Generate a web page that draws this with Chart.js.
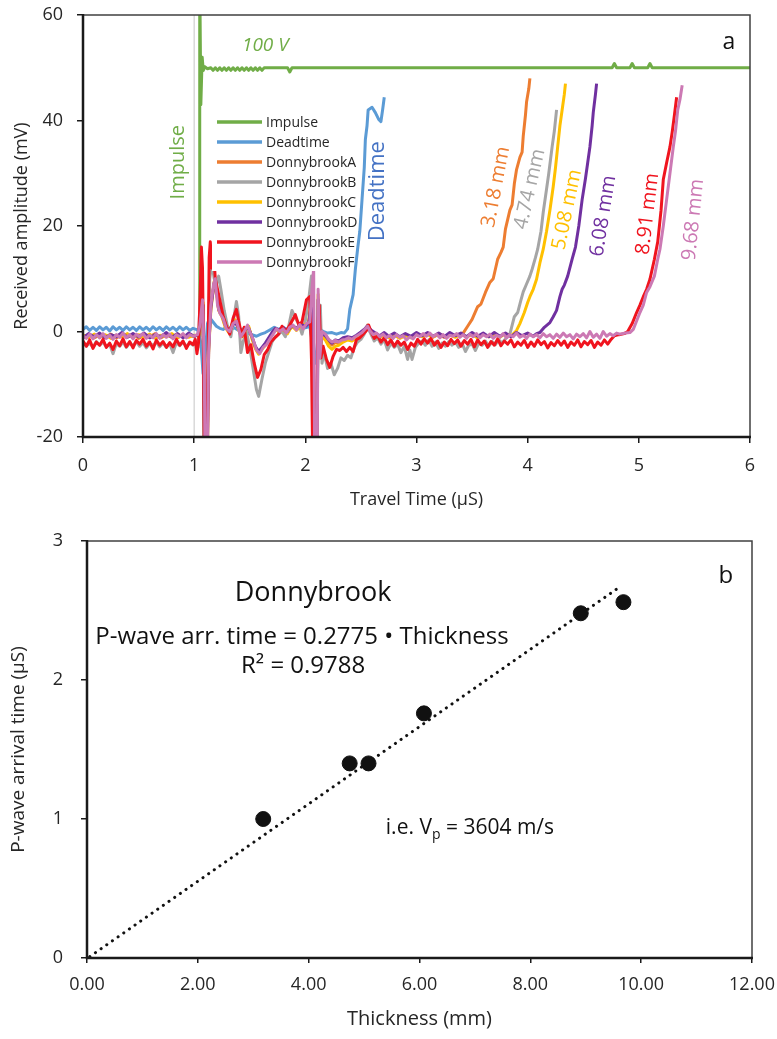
<!DOCTYPE html>
<html>
<head>
<meta charset="utf-8">
<script src="https://cdn.jsdelivr.net/npm/chart.js@4.4.0/dist/chart.umd.min.js"></script>
<style>
  body { margin: 0; background: #fff; }
  #waveBox { position: absolute; left: 0; top: 0; }
  #arrivalBox { position: absolute; left: 0; top: 515px; }
</style>
</head>
<body>
<div id="waveBox"><canvas id="waveChart" width="777" height="515"></canvas></div>
<div id="arrivalBox"><canvas id="arrivalChart" width="777" height="524"></canvas></div>
<script>
// ---- panel a: received waveforms, [travel time (µS), amplitude (mV)] ----
const timeTicks = [0, 1, 2, 3, 4, 5, 6];
const ampTicks = [-20, 0, 20, 40, 60];

const triggerMark = [[1.0, -20], [1.0, 60]];

const impulse = [[1.045,-1],[1.05,68],[1.06,43],[1.072,52],[1.082,49.5],[1.095,50.2],[1.12,49.8],[1.15,50],[1.17,49.5],[1.19,50],[1.21,49.5],[1.23,50],[1.25,49.5],[1.27,50],[1.29,49.5],[1.31,50],[1.33,49.5],[1.35,50],[1.37,49.5],[1.39,50],[1.41,49.5],[1.43,50],[1.45,49.5],[1.47,50],[1.49,49.5],[1.51,50],[1.53,49.5],[1.55,50],[1.57,49.5],[1.59,50],[1.61,49.5],[1.63,50],[1.84,50],[1.86,49.2],[1.88,50],[4.76,50],[4.78,50.8],[4.80,50],[4.92,50],[4.94,50.8],[4.96,50],[5.08,50],[5.10,50.8],[5.12,50],[6.0,50]];

const deadtime = [[0,0.4],[0.03,0.9],[0.06,0.2],[0.09,0.8],[0.12,0.2],[0.15,0.9],[0.18,0.3],[0.21,0.8],[0.24,0.1],[0.27,0.9],[0.30,0.3],[0.33,0.8],[0.36,0.2],[0.39,0.9],[0.42,0.3],[0.45,0.8],[0.48,0.2],[0.51,0.9],[0.54,0.3],[0.57,0.8],[0.60,0.2],[0.63,0.9],[0.66,0.3],[0.69,0.8],[0.72,0.2],[0.75,0.9],[0.78,0.3],[0.81,0.8],[0.84,0.2],[0.87,0.9],[0.90,0.3],[0.93,0.8],[0.96,0.2],[0.99,0.6],[1.03,0.3],[1.06,-2],[1.08,-8],[1.10,-4],[1.12,1.5],[1.14,2.6],[1.17,1.8],[1.20,1.0],[1.23,0.6],[1.26,0.4],[1.29,0.8],[1.32,0.2],[1.36,0.7],[1.40,0.2],[1.44,0.5],[1.48,-0.3],[1.52,-0.6],[1.56,-0.9],[1.60,-0.5],[1.64,-0.2],[1.68,0.3],[1.72,0.8],[1.76,0.4],[1.80,0.8],[1.84,0.3],[1.88,0.9],[1.92,0.5],[1.96,1.0],[2.00,0.7],[2.04,1.0],[2.07,-3],[2.09,-6],[2.11,-2],[2.13,0.5],[2.16,0],[2.20,-0.3],[2.24,-0.2],[2.28,-0.5],[2.32,-0.2],[2.35,-0.3],[2.38,0.5],[2.40,4.2],[2.43,7],[2.45,11.8],[2.47,15.6],[2.49,19],[2.51,25],[2.53,31],[2.54,36.4],[2.555,39],[2.565,42],[2.60,42.5],[2.63,41.5],[2.66,40.2],[2.68,39.8],[2.695,42],[2.71,44.4]];

const donnybrookA = [[0,-1.0],[0.05,-0.6],[0.10,-1.2],[0.15,-0.7],[0.20,-1.1],[0.25,-0.5],[0.30,-1.2],[0.35,-0.6],[0.40,-1.0],[0.45,-0.5],[0.50,-1.3],[0.55,-0.7],[0.60,-1.0],[0.65,-0.4],[0.70,-1.2],[0.75,-0.6],[0.80,-1.1],[0.85,-0.5],[0.90,-1.0],[0.95,-0.6],[1.00,-1.0],[1.04,-0.5],[1.06,3],[1.08,5],[1.095,-30],[1.115,-30],[1.13,-3],[1.15,5],[1.18,9],[1.20,8],[1.22,4.5],[1.25,3],[1.28,1],[1.31,0],[1.34,1.2],[1.37,2],[1.40,0.5],[1.43,-0.8],[1.46,0.3],[1.49,0.8],[1.52,-1.2],[1.55,-3],[1.58,-4],[1.61,-3.2],[1.64,-2.4],[1.67,-1.6],[1.70,-0.6],[1.73,0.3],[1.76,0.1],[1.80,0.6],[1.84,-0.2],[1.88,1.0],[1.92,0.4],[1.96,1.2],[2.00,1.2],[2.03,1.6],[2.06,6],[2.08,-30],[2.10,-30],[2.115,6],[2.13,-4],[2.15,-0.5],[2.18,-1],[2.21,-2],[2.24,-2.6],[2.27,-2],[2.30,-2.2],[2.34,-1.8],[2.38,-1.4],[2.42,-1.6],[2.46,-1.1],[2.50,-0.4],[2.54,0.3],[2.56,1.2],[2.59,0],[2.63,-0.5],[2.67,-1.1],[2.71,-0.6],[2.75,-1.0],[2.80,-0.8],[2.85,-1.2],[2.90,-0.6],[2.95,-1.1],[3.00,-0.5],[3.05,-0.9],[3.10,-0.4],[3.15,-1.0],[3.20,-0.6],[3.25,-1.1],[3.30,-0.5],[3.35,-0.9],[3.39,-0.5],[3.42,-0.3],[3.46,1.0],[3.50,2.3],[3.55,4.7],[3.58,5.2],[3.62,7.4],[3.66,9.3],[3.69,10],[3.73,13.7],[3.76,15],[3.78,16],[3.80,19.4],[3.84,23],[3.86,24],[3.88,28],[3.90,30.7],[3.93,33],[3.95,34],[3.96,37],[3.98,41],[3.99,43.5],[4.01,46],[4.02,48]];

const donnybrookB = [[0,-2.0],[0.03,-2.8],[0.06,-2.2],[0.09,-3.0],[0.12,-1.9],[0.15,-2.6],[0.18,-2.0],[0.21,-2.9],[0.24,-2.4],[0.27,-4.2],[0.30,-2.3],[0.33,-2.8],[0.36,-2.0],[0.39,-3.0],[0.42,-2.2],[0.45,-2.7],[0.48,-1.9],[0.51,-2.8],[0.54,-2.1],[0.57,-3.1],[0.60,-2.3],[0.63,-2.6],[0.66,-2.0],[0.69,-2.9],[0.72,-2.2],[0.75,-3.0],[0.78,-2.3],[0.81,-4.0],[0.84,-2.1],[0.87,-2.7],[0.90,-2.0],[0.93,-2.8],[0.96,-2.2],[0.99,-2.6],[1.02,-2.0],[1.035,-3],[1.05,4],[1.065,12],[1.08,2],[1.09,-30],[1.11,-30],[1.125,-5],[1.14,10],[1.16,13],[1.18,10],[1.20,9],[1.22,10.5],[1.24,8],[1.27,4],[1.30,1],[1.33,-1],[1.36,3],[1.38,5.7],[1.40,3],[1.42,-4],[1.44,-2],[1.47,0],[1.50,-3],[1.53,-7],[1.56,-11],[1.58,-12.3],[1.61,-9],[1.64,-6],[1.67,-4],[1.70,-2],[1.73,-1],[1.76,-0.5],[1.79,0],[1.82,-1],[1.85,1],[1.88,4],[1.91,2.5],[1.94,1.5],[1.97,-0.5],[2.00,2],[2.03,6],[2.055,10.5],[2.07,-5],[2.08,-30],[2.10,-30],[2.11,-10],[2.12,3],[2.135,5],[2.15,-6],[2.17,-4],[2.20,-7],[2.23,-6],[2.26,-8.2],[2.29,-7],[2.32,-5],[2.35,-5.5],[2.38,-4.5],[2.41,-5],[2.44,-3],[2.47,-2],[2.50,-1.5],[2.53,-0.5],[2.56,0.8],[2.59,-0.5],[2.62,-1.8],[2.65,-1.2],[2.68,-2.4],[2.71,-1.6],[2.74,-3.5],[2.77,-2.2],[2.80,-3.0],[2.83,-2.4],[2.86,-4.0],[2.89,-2.8],[2.92,-5.3],[2.94,-3.5],[2.96,-5.3],[2.99,-3.0],[3.02,-2.2],[3.05,-1.8],[3.08,-2.6],[3.11,-1.6],[3.14,-2.8],[3.17,-2.0],[3.20,-3.2],[3.23,-2.2],[3.26,-2.8],[3.29,-1.9],[3.32,-2.6],[3.35,-2.0],[3.38,-3.0],[3.41,-2.2],[3.44,-3.8],[3.47,-2.6],[3.50,-2.4],[3.53,-3.6],[3.56,-2.2],[3.59,-2.6],[3.62,-1.8],[3.65,-2.8],[3.68,-1.9],[3.71,-2.5],[3.74,-1.6],[3.77,-2.2],[3.80,-1.4],[3.84,-0.5],[3.88,2.8],[3.91,3.6],[3.94,6],[3.96,7.5],[3.99,9],[4.02,10.5],[4.04,11.8],[4.07,14],[4.09,15.6],[4.12,19],[4.14,22.6],[4.17,27],[4.19,30],[4.22,35],[4.24,38],[4.26,42]];

const donnybrookC = [[0,-0.7],[0.05,-1.2],[0.10,-0.5],[0.15,-1.1],[0.20,-0.6],[0.25,-1.3],[0.30,-0.7],[0.35,-1.0],[0.40,-0.4],[0.45,-1.2],[0.50,-0.6],[0.55,-1.1],[0.60,-0.5],[0.65,-1.3],[0.70,-0.7],[0.75,-1.0],[0.80,-0.4],[0.85,-1.2],[0.90,-0.6],[0.95,-1.1],[1.00,-0.7],[1.04,-0.8],[1.06,2],[1.08,5.5],[1.095,-30],[1.115,-30],[1.13,-4],[1.15,4],[1.18,9.5],[1.20,7.5],[1.22,4],[1.25,2.8],[1.28,0.8],[1.31,-0.2],[1.34,1.4],[1.37,2.2],[1.40,0.3],[1.43,-1],[1.46,0.2],[1.49,1.0],[1.52,-1.4],[1.55,-3.2],[1.58,-4.3],[1.61,-3.4],[1.64,-2.6],[1.67,-1.4],[1.70,-0.4],[1.73,0.5],[1.76,0],[1.80,0.4],[1.84,-0.4],[1.88,1.1],[1.92,0.2],[1.96,1.1],[2.00,1.4],[2.03,1.7],[2.06,7],[2.08,-30],[2.10,-30],[2.115,7],[2.13,-5],[2.15,-1],[2.18,-1.6],[2.21,-2.8],[2.24,-3.4],[2.27,-2.8],[2.30,-2.6],[2.34,-2.0],[2.38,-1.6],[2.42,-1.8],[2.46,-1.2],[2.50,-0.5],[2.54,0.4],[2.56,1.0],[2.59,0.1],[2.63,-0.7],[2.67,-1.2],[2.71,-0.5],[2.75,-1.2],[2.80,-0.6],[2.85,-1.3],[2.90,-0.8],[2.95,-1.2],[3.00,-0.4],[3.05,-1.0],[3.10,-0.6],[3.15,-1.1],[3.20,-0.4],[3.25,-1.0],[3.30,-0.7],[3.35,-1.1],[3.40,-0.5],[3.45,-1.0],[3.50,-0.6],[3.55,-1.2],[3.60,-0.5],[3.65,-1.0],[3.70,-0.6],[3.75,-1.1],[3.80,-0.4],[3.85,-0.9],[3.90,0.2],[3.93,1.5],[3.97,3.6],[4.00,5.5],[4.02,6.6],[4.05,8],[4.08,9.9],[4.11,13],[4.14,15.6],[4.17,19],[4.20,23],[4.23,27.5],[4.25,31],[4.27,35],[4.29,39],[4.31,42],[4.33,45],[4.34,47]];

const donnybrookD = [[0,-1.2],[0.05,-0.4],[0.10,-1.0],[0.15,-0.3],[0.20,-1.2],[0.25,-0.6],[0.30,-1.0],[0.35,-0.2],[0.40,-1.1],[0.45,-0.4],[0.50,-1.0],[0.55,-0.3],[0.60,-1.2],[0.65,-0.6],[0.70,-1.0],[0.75,-0.2],[0.80,-1.1],[0.85,-0.4],[0.90,-1.2],[0.95,-0.3],[1.00,-0.9],[1.04,-0.6],[1.06,2.5],[1.08,5],[1.095,-30],[1.115,-30],[1.13,-3.5],[1.15,4.5],[1.18,9.2],[1.20,8.5],[1.22,4.2],[1.25,3.2],[1.28,1.2],[1.31,0.2],[1.34,1.0],[1.37,1.8],[1.40,0.6],[1.43,-0.6],[1.46,0.4],[1.49,0.6],[1.52,-1.0],[1.55,-2.8],[1.58,-3.8],[1.61,-3.0],[1.64,-2.2],[1.67,-1.2],[1.70,-0.2],[1.73,0.6],[1.76,0.3],[1.80,0.8],[1.84,0],[1.88,1.2],[1.92,0.6],[1.96,1.4],[2.00,1.0],[2.03,1.5],[2.06,6.5],[2.08,-30],[2.10,-30],[2.115,6],[2.13,-4],[2.15,-0.3],[2.18,-0.8],[2.21,-1.6],[2.24,-2.2],[2.27,-1.6],[2.30,-1.8],[2.34,-1.2],[2.38,-1.0],[2.42,-1.2],[2.46,-0.7],[2.50,-0.1],[2.54,0.6],[2.56,1.1],[2.59,0.3],[2.63,-0.3],[2.67,-0.8],[2.71,-0.2],[2.75,-0.9],[2.80,-0.3],[2.85,-1.0],[2.90,-0.4],[2.95,-0.9],[3.00,-0.2],[3.05,-0.8],[3.10,-0.2],[3.15,-0.9],[3.20,-0.3],[3.25,-1.0],[3.30,-0.2],[3.35,-0.8],[3.40,-0.3],[3.45,-1.0],[3.50,-0.2],[3.55,-0.9],[3.60,-0.3],[3.65,-1.0],[3.70,-0.2],[3.75,-0.9],[3.80,-0.3],[3.85,-1.0],[3.90,-0.2],[3.95,-0.8],[4.00,-0.3],[4.05,-0.9],[4.08,-0.4],[4.11,-0.2],[4.15,0.8],[4.20,1.7],[4.23,2.8],[4.26,4],[4.29,6.6],[4.31,8],[4.33,8.8],[4.36,10.5],[4.40,13.7],[4.43,16],[4.46,20],[4.49,25],[4.52,29],[4.54,32],[4.56,35],[4.58,39],[4.59,41.5],[4.61,45],[4.62,47]];

const donnybrookE = [[0,-1.8],[0.03,-2.8],[0.06,-1.6],[0.09,-3.2],[0.12,-2.0],[0.15,-2.6],[0.18,-1.5],[0.21,-3.0],[0.24,-2.2],[0.27,-3.4],[0.30,-1.8],[0.33,-2.7],[0.36,-1.4],[0.39,-2.9],[0.42,-1.9],[0.45,-3.1],[0.48,-1.7],[0.51,-2.4],[0.54,-1.5],[0.57,-2.8],[0.60,-2.0],[0.63,-3.3],[0.66,-1.6],[0.69,-2.6],[0.72,-1.9],[0.75,-3.0],[0.78,-2.1],[0.81,-2.9],[0.84,-1.5],[0.87,-2.6],[0.90,-1.8],[0.93,-3.2],[0.96,-2.0],[0.99,-2.5],[1.01,-1.5],[1.025,-4.2],[1.04,-2],[1.055,8],[1.065,16],[1.075,12],[1.085,-5],[1.095,-30],[1.115,-30],[1.125,-5],[1.135,14],[1.145,17],[1.16,12],[1.175,15],[1.19,10],[1.21,8],[1.23,6],[1.26,3],[1.29,1],[1.32,-0.5],[1.35,2.5],[1.38,4.2],[1.40,2],[1.43,-0.9],[1.45,0.8],[1.48,-4],[1.51,-2.5],[1.54,-6],[1.57,-8.7],[1.60,-7.2],[1.63,-4.4],[1.66,-3.5],[1.69,-2],[1.73,-1.1],[1.76,-0.5],[1.79,1],[1.82,0],[1.85,0.8],[1.88,2],[1.91,3.2],[1.94,1.3],[1.97,1.8],[2.01,6],[2.04,6.6],[2.055,-5],[2.07,-30],[2.095,-30],[2.105,-10],[2.115,2],[2.125,5],[2.14,-5],[2.16,-2.8],[2.19,-5.3],[2.22,-6.8],[2.25,-4.7],[2.28,-3.4],[2.31,-3.6],[2.34,-3.0],[2.37,-3.8],[2.40,-3.0],[2.43,-3.8],[2.46,-1.5],[2.49,-1.2],[2.52,-0.5],[2.55,0.2],[2.57,1.2],[2.59,0],[2.62,-1.3],[2.65,-0.8],[2.68,-2.0],[2.71,-1.2],[2.74,-2.5],[2.77,-1.6],[2.80,-2.8],[2.83,-1.8],[2.86,-2.6],[2.89,-2.0],[2.92,-3.4],[2.95,-2.2],[2.98,-2.8],[3.01,-1.5],[3.04,-2.4],[3.07,-1.4],[3.10,-2.2],[3.13,-1.3],[3.16,-2.6],[3.19,-1.8],[3.22,-3.0],[3.25,-2.0],[3.28,-2.7],[3.31,-1.5],[3.34,-2.3],[3.37,-1.6],[3.40,-2.8],[3.43,-1.7],[3.46,-2.4],[3.49,-1.5],[3.52,-2.9],[3.55,-1.6],[3.58,-2.5],[3.61,-1.8],[3.64,-3.0],[3.67,-1.9],[3.70,-2.6],[3.73,-1.4],[3.76,-2.7],[3.79,-1.8],[3.82,-2.4],[3.85,-1.6],[3.88,-2.9],[3.91,-2.0],[3.94,-2.6],[3.97,-1.7],[4.00,-3.0],[4.03,-2.0],[4.06,-2.8],[4.09,-1.6],[4.12,-2.5],[4.15,-1.9],[4.18,-3.1],[4.21,-2.1],[4.24,-2.7],[4.27,-1.7],[4.30,-2.6],[4.33,-1.8],[4.36,-3.0],[4.39,-2.0],[4.42,-2.6],[4.45,-1.6],[4.48,-2.9],[4.51,-1.9],[4.54,-2.5],[4.57,-1.7],[4.60,-3.0],[4.63,-2.0],[4.66,-2.6],[4.69,-1.6],[4.72,-2.4],[4.75,-1.5],[4.78,-0.8],[4.82,-0.6],[4.87,-0.4],[4.90,0],[4.94,1.5],[4.98,3.6],[5.01,5],[5.04,6.6],[5.07,8],[5.10,9.9],[5.14,13.7],[5.17,17],[5.20,23],[5.22,28.8],[5.25,32],[5.28,35],[5.30,37.8],[5.32,41],[5.34,44.4]];

const donnybrookF = [[0,-0.8],[0.03,-1.3],[0.06,-0.5],[0.09,-1.4],[0.12,-0.6],[0.15,-1.2],[0.18,-0.4],[0.21,-1.3],[0.24,-0.7],[0.27,-1.5],[0.30,-0.6],[0.33,-1.1],[0.36,-0.3],[0.39,-1.2],[0.42,-0.6],[0.45,-1.4],[0.48,-0.5],[0.51,-1.0],[0.54,-0.4],[0.57,-1.3],[0.60,-0.7],[0.63,-1.2],[0.66,-0.4],[0.69,-1.3],[0.72,-0.6],[0.75,-1.1],[0.78,-0.5],[0.81,-1.4],[0.84,-0.6],[0.87,-1.0],[0.90,-0.4],[0.93,-1.2],[0.96,-0.6],[0.99,-0.9],[1.03,-0.6],[1.05,1.0],[1.075,6.0],[1.09,-5],[1.10,-30],[1.115,-30],[1.13,-4],[1.15,5],[1.175,9],[1.19,10],[1.21,5],[1.23,3.5],[1.26,2.5],[1.29,0.5],[1.32,0],[1.35,1.5],[1.38,2],[1.40,0.5],[1.42,-1],[1.45,0],[1.48,1.2],[1.50,0],[1.53,-1.5],[1.56,-3.5],[1.59,-4.2],[1.62,-3],[1.65,-2.5],[1.68,-1.5],[1.71,-0.5],[1.74,0.5],[1.77,0],[1.80,0.5],[1.83,-0.3],[1.86,0.8],[1.89,1.2],[1.92,0.3],[1.95,1.3],[1.98,0.5],[2.01,1.5],[2.04,1.8],[2.06,8],[2.075,12],[2.085,-30],[2.105,-30],[2.115,8],[2.13,-5],[2.15,0],[2.18,-0.5],[2.21,-1.5],[2.24,-2],[2.27,-1.7],[2.30,-2],[2.33,-1.6],[2.36,-1.5],[2.39,-1.2],[2.42,-1.5],[2.45,-1.0],[2.48,-0.6],[2.51,-0.2],[2.54,0.5],[2.56,1.0],[2.58,0.2],[2.61,-0.6],[2.64,-0.3],[2.67,-1.0],[2.70,-0.5],[2.73,-1.2],[2.76,-0.7],[2.79,-1.3],[2.82,-0.6],[2.85,-1.1],[2.88,-0.8],[2.91,-1.6],[2.94,-1.0],[2.97,-1.4],[3.00,-0.6],[3.03,-1.0],[3.06,-0.4],[3.09,-0.9],[3.12,-0.3],[3.15,-1.0],[3.18,-0.5],[3.21,-1.2],[3.24,-0.6],[3.27,-1.3],[3.30,-0.7],[3.33,-0.9],[3.36,-0.4],[3.39,-1.1],[3.42,-0.6],[3.45,-1.3],[3.48,-0.5],[3.51,-1.0],[3.54,-0.4],[3.57,-1.2],[3.60,-0.6],[3.63,-1.0],[3.66,-0.5],[3.69,-1.3],[3.72,-0.7],[3.75,-1.1],[3.78,-0.4],[3.81,-1.2],[3.84,-0.6],[3.87,-1.0],[3.90,-0.3],[3.93,-1.1],[3.96,-0.7],[3.99,-1.3],[4.02,-0.5],[4.05,-1.0],[4.08,-0.6],[4.11,-1.2],[4.14,-0.4],[4.17,-1.0],[4.20,-0.6],[4.23,-1.3],[4.26,-0.5],[4.29,-1.1],[4.32,-0.3],[4.35,-1.0],[4.38,-0.6],[4.41,-1.4],[4.44,-0.5],[4.47,-1.0],[4.50,-0.4],[4.53,-1.2],[4.56,0.0],[4.59,-1.1],[4.62,-0.5],[4.65,-1.3],[4.68,0.0],[4.71,-0.9],[4.74,-0.4],[4.77,-0.8],[4.80,-0.3],[4.83,-0.5],[4.88,-0.3],[4.92,-0.2],[4.95,0.4],[4.98,2.0],[5.01,3.6],[5.04,5.0],[5.07,7.4],[5.10,8.5],[5.14,10.5],[5.17,13.7],[5.19,15.6],[5.22,20],[5.25,25],[5.28,30],[5.31,35],[5.33,38],[5.35,42],[5.37,44],[5.39,46.7]];

// ---- panel b: arrival time against sample thickness ----
const thicknessMm = [3.18, 4.74, 5.08, 6.08, 8.91, 9.68];
const arrivalUs = [1.00, 1.40, 1.40, 1.76, 2.48, 2.56];
const trendThickness = [0.05, 9.58];
const trendArrival = [0.01, 2.66];
const thicknessTicks = [0, 2, 4, 6, 8, 10, 12];
const arrivalTicks = [0, 1, 2, 3];

const FONT = "'Open Sans', 'Noto Sans', sans-serif";
const INK = '#262626';

const waveSeries = [
    { label: 'Impulse', data: impulse, color: '#70ad47' },
    { label: 'Deadtime', data: deadtime, color: '#5b9bd5' },
    { label: 'DonnybrookA', data: donnybrookA, color: '#ed7d31' },
    { label: 'DonnybrookB', data: donnybrookB, color: '#a5a5a5' },
    { label: 'DonnybrookC', data: donnybrookC, color: '#ffc000' },
    { label: 'DonnybrookD', data: donnybrookD, color: '#7030a0' },
    { label: 'DonnybrookE', data: donnybrookE, color: '#f0141e' },
    { label: 'DonnybrookF', data: donnybrookF, color: '#cc79b4' }
];

// text labels placed in data units of panel a
const waveNotes = [
    { text: '100 V', t: 1.64, v: 54.2, color: '#70ad47', font: 'italic 19px ' + FONT, angle: 0 },
    { text: 'Impulse', t: 0.855, v: 32.1, color: '#70ad47', font: '20px ' + FONT, angle: -90 },
    { text: 'Deadtime', t: 2.655, v: 26.6, color: '#4472c4', font: '22px ' + FONT, angle: -90 },
    { text: '3.18 mm', t: 3.715, v: 27.4, color: '#ed7d31', font: '20px ' + FONT, angle: -79 },
    { text: '4.74 mm', t: 4.02, v: 27.0, color: '#a5a5a5', font: '20px ' + FONT, angle: -77 },
    { text: '5.08 mm', t: 4.355, v: 23.1, color: '#ffc000', font: '20px ' + FONT, angle: -78 },
    { text: '6.08 mm', t: 4.68, v: 21.9, color: '#7030a0', font: '20px ' + FONT, angle: -81 },
    { text: '8.91 mm', t: 5.08, v: 22.3, color: '#f0141e', font: '20px ' + FONT, angle: -83 },
    { text: '9.68 mm', t: 5.49, v: 21.2, color: '#cc79b4', font: '20px ' + FONT, angle: -84 },
    { text: 'a', t: 5.81, v: 54.8, color: '#111', font: '23px ' + FONT, angle: 0 }
];

const arrivalNotes = [
    { text: 'Donnybrook', x: 4.08, y: 2.627, font: '27px ' + FONT },
    { text: 'P-wave arr. time = 0.2775 \u2022 Thickness', x: 3.88, y: 2.311, font: '24px ' + FONT },
    { text: 'R\u00b2 = 0.9788', x: 3.90, y: 2.096, font: '24px ' + FONT },
    { text: 'b', x: 11.53, y: 2.75, font: '24px ' + FONT }
];

function drawNote(ctx, text, x, y, font, color, angle) {
    ctx.save();
    ctx.translate(x, y);
    ctx.rotate(angle * Math.PI / 180);
    ctx.font = font;
    ctx.fillStyle = color;
    ctx.textAlign = 'center';
    ctx.textBaseline = 'middle';
    ctx.fillText(text, 0, 0);
    ctx.restore();
}

function drawFrame(ctx, area) {
    ctx.save();
    ctx.strokeStyle = '#404040';
    ctx.lineWidth = 1.5;
    ctx.beginPath();
    ctx.moveTo(area.left, area.top);
    ctx.lineTo(area.right, area.top);
    ctx.lineTo(area.right, area.bottom);
    ctx.stroke();
    ctx.strokeStyle = '#1a1a1a';
    ctx.lineWidth = 2.5;
    ctx.beginPath();
    ctx.moveTo(area.left, area.top - 1);
    ctx.lineTo(area.left, area.bottom);
    ctx.lineTo(area.right + 1, area.bottom);
    ctx.stroke();
    ctx.restore();
}

const waveDecor = {
    id: 'waveDecor',
    afterDatasetsDraw(chart) {
        const ctx = chart.ctx;
        const area = chart.chartArea;
        const xs = chart.scales.x;
        const ys = chart.scales.y;
        drawFrame(ctx, area);

        // legend block inside the plot
        const lx = area.left + 134;
        const ly = area.top + 107;
        ctx.save();
        ctx.fillStyle = '#fff';
        ctx.fillRect(lx - 5, ly - 11, 134, 160);
        ctx.font = '14px ' + FONT;
        ctx.textBaseline = 'middle';
        ctx.lineWidth = 3.5;
        waveSeries.forEach((s, i) => {
            const y = ly + i * 20;
            ctx.strokeStyle = s.color;
            ctx.beginPath();
            ctx.moveTo(lx, y);
            ctx.lineTo(lx + 45, y);
            ctx.stroke();
            ctx.fillStyle = INK;
            ctx.fillText(s.label, lx + 49, y + 1);
        });
        ctx.restore();

        waveNotes.forEach(n => {
            drawNote(ctx, n.text, xs.getPixelForValue(n.t), ys.getPixelForValue(n.v), n.font, n.color, n.angle);
        });
    }
};

const arrivalDecor = {
    id: 'arrivalDecor',
    afterDatasetsDraw(chart) {
        const ctx = chart.ctx;
        const xs = chart.scales.x;
        const ys = chart.scales.y;
        drawFrame(ctx, chart.chartArea);
        arrivalNotes.forEach(n => {
            drawNote(ctx, n.text, xs.getPixelForValue(n.x), ys.getPixelForValue(n.y), n.font, '#111', 0);
        });

        // "i.e. Vp = 3604 m/s" with a subscript p
        const cx = xs.getPixelForValue(6.91);
        const cy = ys.getPixelForValue(0.933);
        ctx.save();
        ctx.fillStyle = '#111';
        ctx.textBaseline = 'middle';
        ctx.textAlign = 'left';
        const big = '21px ' + FONT;
        const small = '14px ' + FONT;
        ctx.font = big;
        const w1 = ctx.measureText('i.e. V').width;
        const w3 = ctx.measureText(' = 3604 m/s').width;
        ctx.font = small;
        const w2 = ctx.measureText('p').width;
        let x = cx - (w1 + w2 + w3) / 2;
        ctx.font = big;
        ctx.fillText('i.e. V', x, cy);
        x += w1;
        ctx.font = small;
        ctx.fillText('p', x, cy + 7);
        x += w2;
        ctx.font = big;
        ctx.fillText(' = 3604 m/s', x, cy);
        ctx.restore();
    }
};

function axisTicks(list) {
    return scale => { scale.ticks = list.map(v => ({ value: v })); };
}

// fixed axis box sizes; drop label overhang so the plot edges stay put
function fixWidth(w) {
    return s => { s.width = w; s.paddingTop = 0; s.paddingBottom = 0; };
}
function fixHeight(h) {
    return s => { s.height = h; s.paddingLeft = 0; s.paddingRight = 0; };
}

const waveDatasets = waveSeries.map((s, i) => ({
    label: s.label,
    data: s.data,
    borderColor: s.color,
    borderWidth: 3,
    pointRadius: 0,
    tension: 0,
    borderJoinStyle: 'round',
    clip: 0,
    order: waveSeries.length - i
}));
waveDatasets.push({
    label: 'trigger',
    data: triggerMark,
    borderColor: '#cfcfcf',
    borderWidth: 1.2,
    pointRadius: 0,
    clip: 0,
    order: 20
});

new Chart(document.getElementById('waveChart'), {
    type: 'line',
    data: { datasets: waveDatasets },
    options: {
        responsive: false,
        animation: false,
        layout: { padding: { left: 0, right: 27, top: 15, bottom: 0 } },
        plugins: { legend: { display: false }, tooltip: { enabled: false } },
        scales: {
            x: {
                type: 'linear',
                min: 0,
                max: 6,
                afterBuildTicks: axisTicks(timeTicks),
                afterFit: fixHeight(78),
                border: { display: false },
                grid: { drawOnChartArea: false, tickLength: 6, color: '#1a1a1a', lineWidth: 1.5 },
                ticks: { padding: 12, color: INK, font: { family: FONT, size: 18 } },
                title: { display: true, text: 'Travel Time (\u00b5S)', color: INK, font: { family: FONT, size: 18 }, padding: { top: 0, bottom: 4 } }
            },
            y: {
                min: -20,
                max: 60,
                afterBuildTicks: axisTicks(ampTicks),
                afterFit: fixWidth(83),
                border: { display: false },
                grid: { drawOnChartArea: false, tickLength: 6, color: '#1a1a1a', lineWidth: 1.5 },
                ticks: { padding: 14, color: INK, font: { family: FONT, size: 18 } },
                title: { display: true, text: 'Received amplitude (mV)', color: INK, font: { family: FONT, size: 18 }, padding: { top: 11, bottom: 0 } }
            }
        }
    },
    plugins: [waveDecor]
});

new Chart(document.getElementById('arrivalChart'), {
    type: 'scatter',
    data: {
        datasets: [
            {
                label: 'Donnybrook',
                data: thicknessMm.map((t, i) => [t, arrivalUs[i]]),
                pointRadius: 7.5,
                pointBackgroundColor: '#111',
                pointBorderColor: '#111',
                order: 0
            },
            {
                label: 'Linear trend',
                data: trendThickness.map((t, i) => [t, trendArrival[i]]),
                showLine: true,
                pointRadius: 0,
                borderColor: '#111',
                borderWidth: 3,
                borderDash: [0.1, 6.8],
                borderCapStyle: 'round',
                order: 1
            }
        ]
    },
    options: {
        responsive: false,
        animation: false,
        layout: { padding: { left: 0, right: 25, top: 26, bottom: 0 } },
        plugins: { legend: { display: false }, tooltip: { enabled: false } },
        scales: {
            x: {
                type: 'linear',
                min: 0,
                max: 12,
                afterBuildTicks: axisTicks(thicknessTicks),
                afterFit: fixHeight(81),
                border: { display: false },
                grid: { drawOnChartArea: false, tickLength: 5, color: '#1a1a1a', lineWidth: 1.5 },
                ticks: { padding: 11, color: INK, font: { family: FONT, size: 18 }, callback: v => v.toFixed(2) },
                title: { display: true, text: 'Thickness (mm)', color: INK, font: { family: FONT, size: 20 }, padding: { top: 0, bottom: 8 } }
            },
            y: {
                min: 0,
                max: 3,
                afterBuildTicks: axisTicks(arrivalTicks),
                afterFit: fixWidth(87),
                border: { display: false },
                grid: { drawOnChartArea: false, tickLength: 6, color: '#1a1a1a', lineWidth: 1.5 },
                ticks: { padding: 18, color: INK, font: { family: FONT, size: 18 } },
                title: { display: true, text: 'P-wave arrival time (\u00b5S)', color: INK, font: { family: FONT, size: 19 }, padding: { top: 7, bottom: 0 } }
            }
        }
    },
    plugins: [arrivalDecor]
});
</script>
</body>
</html>
